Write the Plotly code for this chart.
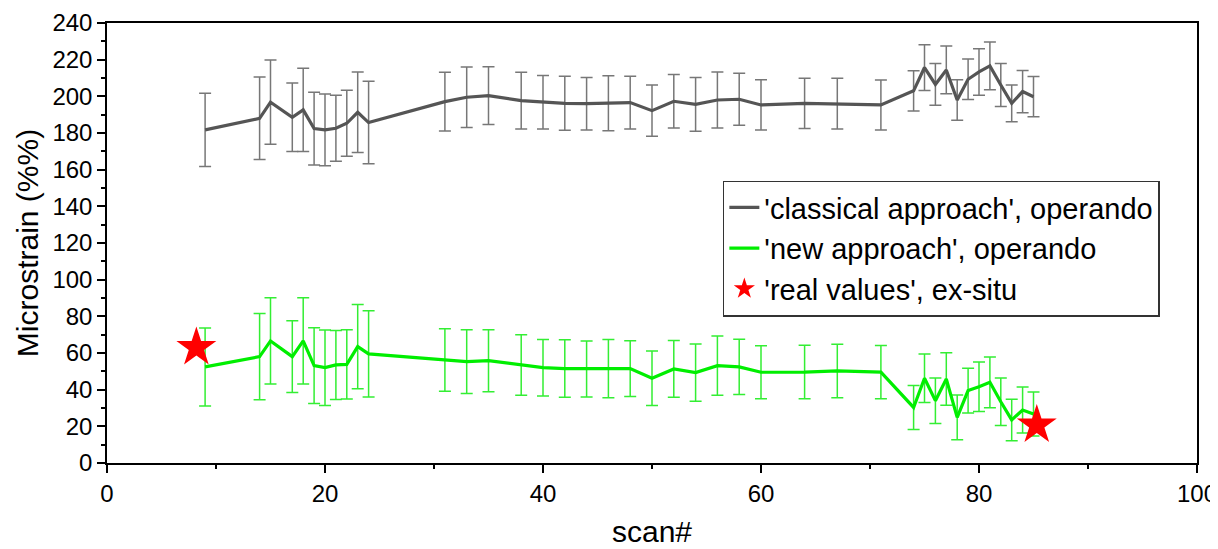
import plotly.graph_objects as go

scan = [9, 14, 15, 17, 18, 19, 20, 21, 22, 23, 24, 31, 33, 35, 38, 40, 42, 44, 46, 48, 50, 52,
        54, 56, 58, 60, 64, 67, 71, 74, 75, 76, 77, 78, 79, 80, 81, 82, 83, 84, 85]

classical = [181.7, 188, 196.8, 188.6, 192.6, 182.4, 181.7, 182.6, 185.3, 191.3, 185.7, 197.1,
             199.5, 200.4, 197.7, 196.8, 196.2, 196, 196.2, 196.6, 192.2, 197.3, 195.6, 198,
             198.4, 195.3, 196.2, 196, 195.3, 203, 215.7, 206.5, 214.4, 198, 209.3, 213.3,
             216.6, 206.2, 196.2, 202.6, 199.8]
classical_err = [20, 22.5, 23, 18.7, 22.7, 19.8, 19.6, 18, 18, 22, 22.5, 16, 16.5, 15.8, 15.5,
                 14.6, 14.7, 14.3, 15, 14.4, 14, 14.6, 14.7, 15.3, 14.2, 13.7, 13.7, 13.8, 13.6,
                 11, 12.5, 11.4, 13, 11, 11, 12.7, 13, 11.7, 10, 11.5, 11]

new = [52.4, 58, 66.6, 58, 66.6, 53.1, 52, 53.5, 53.8, 63.5, 59.5, 56.2, 55.3, 55.8, 53.5, 52,
       51.5, 51.3, 51.5, 51.5, 46.2, 51.3, 49.3, 53.1, 52.4, 49.5, 49.6, 50.2, 49.6, 30.3, 46.2,
       34, 45.8, 24.9, 39.5, 41.6, 44, 33.4, 23.5, 28.9, 26.7]
new_err = [21.3, 23.5, 23.5, 19.6, 23.5, 20.7, 20.6, 18.8, 18.9, 23, 23.5, 17, 17.4, 16.9, 16.5,
           15.4, 15.7, 15.3, 15.9, 15.2, 14.9, 15.5, 15.6, 16.2, 15.1, 14.5, 14.6, 14.6, 14.5,
           12, 13.2, 12.4, 14.3, 12.2, 12.2, 13.5, 13.8, 13, 11.3, 12.6, 12]

real_scan = [8.2, 85.3]
real_vals = [63, 20.7]

names = ["'classical approach', operando", "'new approach', operando", "'real values', ex-situ"]

FONT = "Arial, Liberation Sans, sans-serif"

fig = go.Figure()
fig.add_trace(go.Scatter(
    x=scan, y=classical, mode="lines", name=names[0],
    line=dict(color="#555555", width=3.2),
    error_y=dict(type="data", array=classical_err, visible=True, color="#777777",
                 thickness=1.5, width=6),
))
fig.add_trace(go.Scatter(
    x=scan, y=new, mode="lines", name=names[1],
    line=dict(color="#00ee00", width=3.2),
    error_y=dict(type="data", array=new_err, visible=True, color="#33ee33",
                 thickness=1.5, width=6),
))
fig.add_trace(go.Scatter(
    x=real_scan, y=real_vals, mode="markers", name=names[2],
    marker=dict(symbol="star", size=30, color="#ff0000", line=dict(width=0)),
))

axis_common = dict(
    showgrid=False, zeroline=False, showline=True, linecolor="black", linewidth=1.5,
    mirror=True, ticks="outside", ticklen=8, tickwidth=1.5, tickcolor="black",
    tickfont=dict(family=FONT, size=24, color="black"), automargin=False,
)

fig.update_xaxes(
    range=[0, 100], dtick=20, tick0=0,
    minor=dict(dtick=10, ticks="outside", ticklen=4, tickwidth=1.5, tickcolor="black"),
    title=dict(text="scan#", font=dict(family=FONT, size=30, color="black"), standoff=15),
    **axis_common,
)
fig.update_yaxes(
    range=[0, 240], dtick=20, tick0=0,
    minor=dict(dtick=10, ticks="outside", ticklen=4, tickwidth=1.5, tickcolor="black"),
    title=dict(text="Microstrain (%%)", font=dict(family=FONT, size=30, color="black"), standoff=5),
    **axis_common,
)

# page body adds an 8px offset; margins compensate so the plot area lands as in the reference
fig.update_layout(
    width=1218, height=549,
    margin=dict(l=99, r=29, t=15, b=94),
    plot_bgcolor="white", paper_bgcolor="white",
    font=dict(family=FONT, color="black"),
    legend=dict(
        x=0.565, y=0.642, xanchor="left", yanchor="top",
        bgcolor="white", bordercolor="#333333", borderwidth=1.5,
        font=dict(family=FONT, size=29, color="black"),
        tracegroupgap=0, itemsizing="trace",
    ),
)

fig.write_html("out.html")
